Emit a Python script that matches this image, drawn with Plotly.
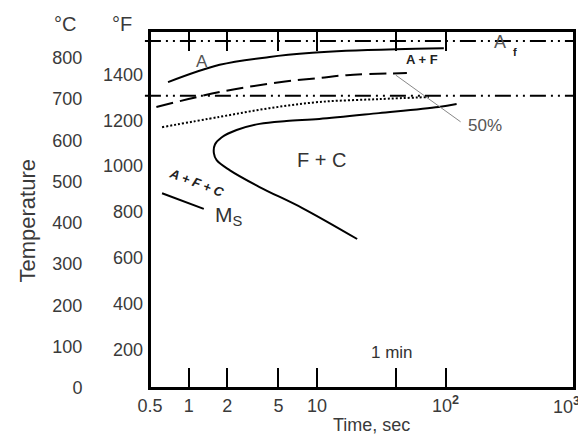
import numpy as np
import plotly.graph_objects as go

# ---------------- data ----------------
AF_TEMP = 841      # Af line, degC
A1_TEMP = 708      # A1 line, degC

START_T = [0.69, 1.74, 4.26, 9.17, 16.8, 41.0, 97.0]
START_C = [741, 783, 802, 812, 817, 821, 823]

DASH_T = [0.56, 1.74, 5.1, 10.4, 17.0, 50.0]
DASH_C = [681, 717, 741, 751, 758, 763]

DOT_T = [0.62, 1.74, 4.26, 10.4, 30.3, 74.0]
DOT_C = [632, 657, 678, 693, 700, 705]

FINISH_T = [122, 88.3, 30.3, 10.4, 5.77, 3.56, 2.36, 1.8, 1.6, 1.57, 1.65, 2.08, 3.56, 7.67, 20.5]
FINISH_C = [688, 681, 666, 652, 647, 640, 625, 607, 590, 569, 552, 528, 487, 436, 361]

MS_T = [0.62, 1.31]
MS_C = [472, 434]

LEADER_T = [41, 131]
LEADER_C = [758, 645]

ONE_MIN = 41
X_TICKS = [0.5, 1, 2, 5, 10, ONE_MIN, 100, 1000]
X_LABELS = ["0.5", "1", "2", "5", "10", " ", "10<sup><b>2</b></sup>", " "]
LAST_LABEL = "10<sup><b>3</b></sup>"   # drawn at the right edge, kept inside the page
C_TICKS = [0, 100, 200, 300, 400, 500, 600, 700, 800]
F_TICKS = [200, 400, 600, 800, 1000, 1200, 1400]
C_MAX = 865

FONT = "Liberation Sans, Arial, sans-serif"
TXT = "#3a3a3a"

fig = go.Figure()

def line(x, y, dash="solid", width=2, color="black", shape="spline"):
    fig.add_trace(go.Scatter(x=x, y=y, mode="lines", showlegend=False, hoverinfo="skip",
                             line=dict(color=color, width=width, dash=dash, shape=shape)))

line(START_T, START_C)
line(DASH_T, DASH_C, dash="17px,7px")
line(DOT_T, DOT_C, dash="2px,2px")
line(FINISH_T, FINISH_C)
line(MS_T, MS_C, shape="linear")
line(LEADER_T, LEADER_C, width=1, color="#888888", shape="linear")

# dummy trace for the degF axis
fig.add_trace(go.Scatter(x=[None], y=[None], yaxis="y2", showlegend=False, hoverinfo="skip"))

for temp in (AF_TEMP, A1_TEMP):
    fig.add_shape(type="line", xref="paper", yref="y", x0=-0.012, x1=1, y0=temp, y1=temp,
                  line=dict(color="black", width=2, dash="16px,5px,2px,5px,2px,5px"))

# plot frame
fig.add_shape(type="rect", xref="paper", yref="paper", x0=0, x1=1, y0=0, y1=1,
              line=dict(color="black", width=2))

def ann(text, t, c, size=17, color=TXT, **kw):
    fig.add_annotation(x=np.log10(t), y=c, xref="x", yref="y", text=text, showarrow=False,
                       font=dict(family=FONT, size=size, color=color), **kw)

ann("A", 1.26, 790, size=17, color="#555555")
ann("<b>A + F</b>", 65, 795, size=13, color="#222222")
ann("A", 267, 838, size=18, color="#555555")
ann("<b>f</b>", 349, 814, size=11, color="#222222")
ann("50%", 204, 637, size=17, color="#555555")
ann("F + C", 10.8, 552, size=20, color="#333333")
ann("<b><i>A + F + C</i></b>", 1.14, 499, size=13, color="#222222", textangle=21)
ann("M<sub>S</sub>", 2.05, 417, size=21, color="#333333")
ann("1 min", 38.2, 85, size=17, color="#333333")

def pann(text, x, y, size=18, **kw):
    kw.setdefault("xanchor", "center")
    fig.add_annotation(x=x, y=y, xref="paper", yref="paper", text=text, showarrow=False,
                       yanchor="middle", font=dict(family=FONT, size=size, color=TXT), **kw)

pann("°C", -0.1995, 1.02, size=20)
pann("°F", -0.0657, 1.02, size=20)
pann("Temperature", -0.2887, 0.468, size=22, textangle=-90)
pann("Time, sec", 0.5235, -0.1036, size=18)
pann(LAST_LABEL, 1.018, -0.05, size=18, xanchor="right")

# the page body adds an 8px offset, so the figure is 8px smaller on each axis
fig.update_layout(
    width=578, height=427,
    margin=dict(l=142, r=10, t=23, b=47),
    plot_bgcolor="white", paper_bgcolor="white",
    xaxis=dict(type="log", range=[np.log10(0.5) - 0.0005, 3.0005], tickvals=X_TICKS, ticktext=X_LABELS,
               ticks="inside", ticklen=20, tickwidth=2, tickcolor="black",
               showline=True, linecolor="black", linewidth=2, mirror="ticks",
               showgrid=False, zeroline=False,
               tickfont=dict(family=FONT, size=18, color=TXT)),
    yaxis=dict(range=[0, C_MAX], tickvals=C_TICKS, ticks="", showline=True, linecolor="black",
               linewidth=2, mirror=True, showgrid=False, zeroline=False,
               ticklabelstandoff=62,
               tickfont=dict(family=FONT, size=18, color=TXT)),
    yaxis2=dict(range=[32, C_MAX * 1.8 + 32], tickvals=F_TICKS, overlaying="y", side="left",
                anchor="x", ticks="", showline=False, showgrid=False, zeroline=False,
                ticklabelstandoff=6,
                tickfont=dict(family=FONT, size=18, color=TXT)),
)

fig.write_html("out.html")
